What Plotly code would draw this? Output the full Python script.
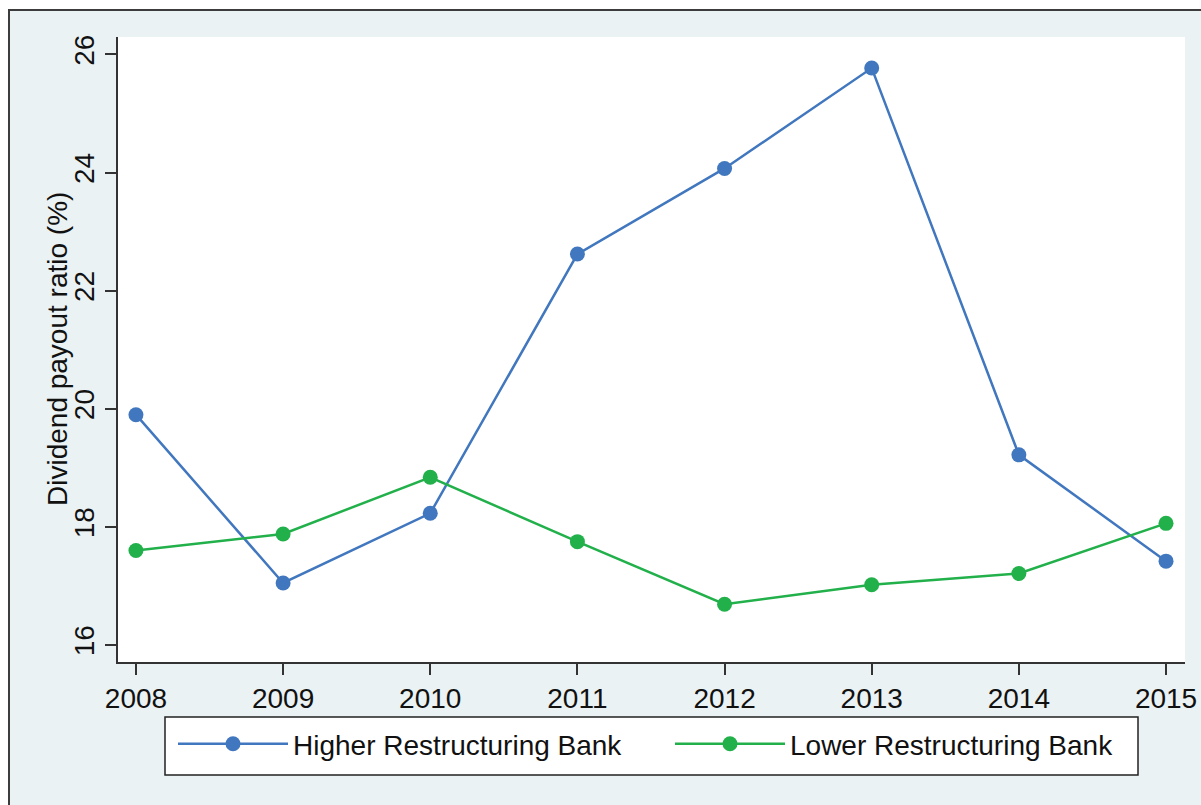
import plotly.graph_objects as go

years = [2008, 2009, 2010, 2011, 2012, 2013, 2014, 2015]
higher = [19.90, 17.05, 18.23, 22.62, 24.07, 25.77, 19.22, 17.42]
lower = [17.60, 17.88, 18.84, 17.75, 16.69, 17.02, 17.21, 18.06]
y_ticks = [16, 18, 20, 22, 24, 26]
y_title = "Dividend payout ratio (%)"
names = ["Higher Restructuring Bank", "Lower Restructuring Bank"]

BLUE = "#4177BE"
GREEN = "#22B04B"
BG = "#EAF2F3"
FONT = "Liberation Sans, Arial, sans-serif"
FS = 28

fig = go.Figure()
fig.add_trace(go.Scatter(x=years, y=higher, mode="lines+markers", name=names[0],
                         line=dict(color=BLUE, width=2.5),
                         marker=dict(color=BLUE, size=15), legendwidth=372))
fig.add_trace(go.Scatter(x=years, y=lower, mode="lines+markers", name=names[1],
                         line=dict(color=GREEN, width=2.5),
                         marker=dict(color=GREEN, size=15)))

W, H = 1201, 805
PL, PR, PT, PB = 118, 1185, 37, 662  # plot area in window pixels
L, T, R, B = PL, PT, W - PR, H - PB
pw = PR - PL
ph = PB - PT


def px(xabs):
    return (xabs - PL) / pw


def py(yabs):
    return (PB - yabs) / ph


# outer graph region (light blue) with dark frame, then white plot region
fig.add_shape(type="rect", xref="paper", yref="paper", layer="below",
              x0=px(9), x1=1.5, y0=-1.0, y1=py(10),
              fillcolor=BG, line=dict(color="#3C3C3C", width=2))
fig.add_shape(type="rect", xref="paper", yref="paper", layer="below",
              x0=0, x1=1, y0=0, y1=1, fillcolor="white", line=dict(width=0))
# legend box
fig.add_shape(type="rect", xref="paper", yref="paper", layer="below",
              x0=px(165), x1=px(1138), y0=py(775), y1=py(717),
              fillcolor="white", line=dict(color="#222", width=1.5))

fig.add_annotation(text=y_title, xref="paper", yref="paper", x=px(57.5), y=0.5,
                   xanchor="center", yanchor="middle", textangle=-90, showarrow=False,
                   font=dict(size=FS, family=FONT, color="#111"))

fig.update_layout(
    width=W, height=H,
    autosize=False,
    margin=dict(l=L, r=R, t=T, b=B, autoexpand=False),
    paper_bgcolor="white",
    plot_bgcolor="rgba(0,0,0,0)",
    font=dict(family=FONT, size=FS, color="#111"),
    showlegend=True,
    legend=dict(orientation="h", x=px(646), xanchor="center", y=py(719), yanchor="top",
                bgcolor="rgba(0,0,0,0)", borderwidth=0,
                font=dict(size=FS, family=FONT, color="#111"),
                itemwidth=110),
    xaxis=dict(range=[2007.878, 2015.129], tickmode="array", tickvals=years,
               ticktext=[str(y) for y in years], automargin=False,
               showgrid=False, zeroline=False, showline=True, linecolor="#333",
               linewidth=1.5, ticks="outside", ticklen=11, tickwidth=1.5,
               tickcolor="#333", tickfont=dict(size=FS, family=FONT, color="#111")),
    yaxis=dict(range=[15.712, 26.296], tickvals=y_ticks, tickangle=-90, automargin=False,
               showgrid=False, zeroline=False, showline=True, linecolor="#333",
               linewidth=1.5, ticks="outside", ticklen=11, tickwidth=1.5,
               tickcolor="#333", tickfont=dict(size=FS, family=FONT, color="#111")),
)

fig.write_html("out.html",
               config={"displayModeBar": False},
               post_script="document.body.style.margin='0';document.body.style.overflow='hidden';")
